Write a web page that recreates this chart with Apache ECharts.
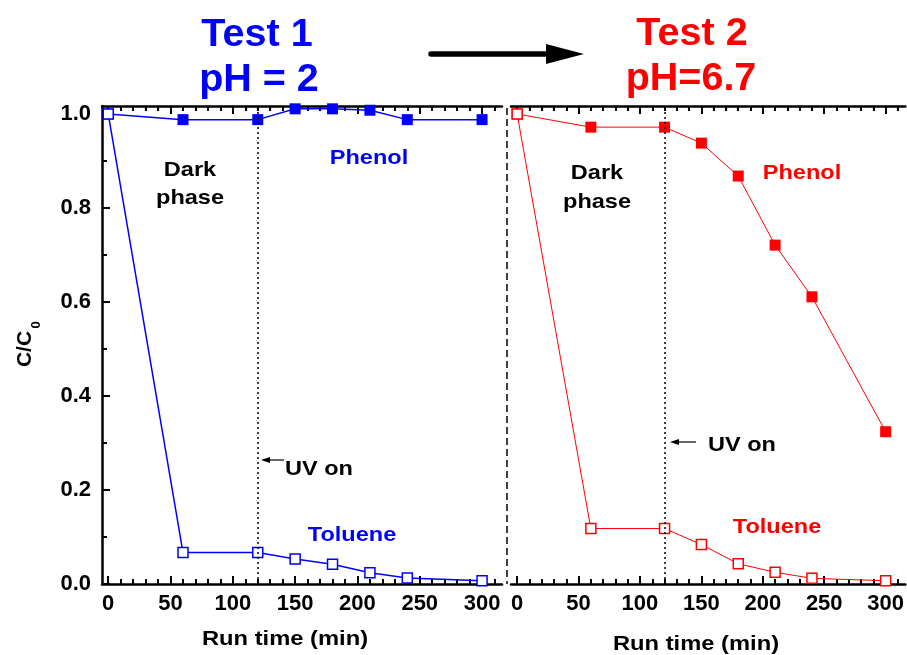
<!DOCTYPE html>
<html>
<head>
<meta charset="utf-8">
<script src="https://cdn.jsdelivr.net/npm/echarts@6/dist/echarts.min.js"></script>
<style>
  html, body { margin: 0; padding: 0; background: #ffffff; }
  #chart { width: 907px; height: 655px; }
</style>
</head>
<body>
<div id="chart"></div>
<script>
// Sampling times (min) shared by both tests
const runTime = [0, 60, 120, 150, 180, 210, 240, 300];

// Test 1, pH = 2 : C/C0
const phenolPH2  = [1.000, 0.988, 0.988, 1.011, 1.011, 1.008, 0.988, 0.988];
const toluenePH2 = [1.000, 0.067, 0.067, 0.053, 0.042, 0.024, 0.013, 0.007];

// Test 2, pH = 6.7 : C/C0
const phenolPH67  = [1.000, 0.972, 0.972, 0.938, 0.868, 0.721, 0.611, 0.324];
const toluenePH67 = [1.000, 0.118, 0.118, 0.084, 0.043, 0.025, 0.012, 0.007];

// UV lamp switched on after the dark phase
const uvOnTime = 120;

// Tick positions
const xMajorTicks = [0, 50, 100, 150, 200, 250, 300];
const xMinorTicks = [10, 20, 30, 40, 60, 70, 80, 90, 110, 120, 130, 140, 160, 170, 180, 190,
                     210, 220, 230, 240, 260, 270, 280, 290, 310];
const yMajorTicks = [0, 0.2, 0.4, 0.6, 0.8, 1.0];
const yMinorTicks = [0.1, 0.3, 0.5, 0.7, 0.9];

const FONT = '"Liberation Sans", Arial, sans-serif';
const BLUE = '#0000ff';
const RED = '#ff0000';
const X_MIN = -5, X_MAX = 316, Y_MIN = 0, Y_MAX = 1.017;
const WIDE = 1.12;   // horizontal stretch of the bold annotation lettering

const pairs = (xs, ys) => xs.map((x, i) => [x, ys[i]]);

function xAxisDef(gridIndex, position, ticks, len, withLabels, withLine) {
  return {
    type: 'value', gridIndex, position, min: X_MIN, max: X_MAX,
    axisLine: { show: withLine, onZero: false, lineStyle: { color: '#000', width: 2.5 } },
    axisTick: { show: true, inside: true, length: len, customValues: ticks,
                lineStyle: { color: '#000', width: 2 } },
    axisLabel: withLabels ? {
      show: true, customValues: ticks, margin: 9, color: '#000',
      fontFamily: FONT, fontWeight: 'bold', fontSize: 22,
      formatter: v => String(Math.round(v))
    } : { show: false },
    splitLine: { show: false }
  };
}

function yAxisDef(gridIndex, ticks, len, withLabels, withLine, show) {
  return {
    type: 'value', gridIndex, position: 'left', min: Y_MIN, max: Y_MAX, show,
    axisLine: { show: withLine, onZero: false, lineStyle: { color: '#000', width: 2.5 } },
    axisTick: { show: true, inside: true, length: len, customValues: ticks,
                lineStyle: { color: '#000', width: 2 } },
    axisLabel: withLabels ? {
      show: true, customValues: ticks, margin: 11, color: '#000',
      fontFamily: FONT, fontWeight: 'bold', fontSize: 22,
      formatter: v => v.toFixed(1)
    } : { show: false },
    splitLine: { show: false }
  };
}

function uvLine() {
  return {
    silent: true, symbol: 'none', label: { show: false },
    lineStyle: { color: '#000', type: [2, 3], width: 1.5 },
    emphasis: { disabled: true },
    data: [{ xAxis: uvOnTime }]
  };
}

function filledSeries(name, xi, yi, data, color, width, markLine) {
  const s = {
    name, type: 'line', xAxisIndex: xi, yAxisIndex: yi, data,
    symbol: 'rect', symbolSize: 11,
    itemStyle: { color },
    lineStyle: { color, width },
    emphasis: { disabled: true }, z: 3
  };
  if (markLine) s.markLine = markLine;
  return s;
}

function openSeries(name, xi, yi, data, color, width) {
  return {
    name, type: 'line', xAxisIndex: xi, yAxisIndex: yi, data,
    symbol: 'rect', symbolSize: 10,
    itemStyle: { color: '#ffffff', borderColor: color, borderWidth: 1.5 },
    lineStyle: { color, width },
    emphasis: { disabled: true }, z: 4
  };
}

function label(text, x, y, color, size, stretch, align) {
  return {
    type: 'text', x, y, silent: true, scaleX: stretch || 1,
    style: { text, fill: color, font: 'bold ' + size + 'px ' + FONT,
             align: align || 'center', verticalAlign: 'middle' }
  };
}

function leftArrow(x1, x2, y) {
  return [
    { type: 'line', silent: true, shape: { x1: x1, y1: y, x2: x2 + 6, y2: y },
      style: { stroke: '#000', lineWidth: 1.2 } },
    { type: 'polygon', silent: true,
      shape: { points: [[x2, y], [x2 + 9, y - 3], [x2 + 9, y + 3]] },
      style: { fill: '#000' } }
  ];
}

const chart = echarts.init(document.getElementById('chart'), null, { renderer: 'canvas' });

chart.setOption({
  animation: false,
  backgroundColor: '#ffffff',
  grid: [
    { left: 102, top: 106, width: 400, height: 478 },
    { left: 511, top: 106, width: 399, height: 478 }
  ],
  xAxis: [
    xAxisDef(0, 'bottom', xMajorTicks, 8, true, true),
    xAxisDef(0, 'bottom', xMinorTicks, 5, false, false),
    xAxisDef(0, 'top', xMajorTicks, 8, false, true),
    xAxisDef(0, 'top', xMinorTicks, 5, false, false),
    xAxisDef(1, 'bottom', xMajorTicks, 8, true, true),
    xAxisDef(1, 'bottom', xMinorTicks, 5, false, false),
    xAxisDef(1, 'top', xMajorTicks, 8, false, true),
    xAxisDef(1, 'top', xMinorTicks, 5, false, false)
  ],
  yAxis: [
    yAxisDef(0, yMajorTicks, 8, true, true, true),
    yAxisDef(0, yMinorTicks, 5, false, false, true),
    yAxisDef(1, yMajorTicks, 8, false, false, false)
  ],
  series: [
    filledSeries('Phenol pH 2', 0, 0, pairs(runTime, phenolPH2), BLUE, 1.5, uvLine()),
    openSeries('Toluene pH 2', 0, 0, pairs(runTime, toluenePH2), BLUE, 1.5),
    filledSeries('Phenol pH 6.7', 4, 2, pairs(runTime, phenolPH67), RED, 1, uvLine()),
    openSeries('Toluene pH 6.7', 4, 2, pairs(runTime, toluenePH67), RED, 1)
  ],
  graphic: [
    // headings
    label('Test 1', 257, 36, BLUE, 38, 1.04),
    label('pH = 2', 259, 81, BLUE, 38, 1.04),
    label('Test 2', 692, 35, RED, 38, 1.04),
    label('pH=6.7', 691, 80, RED, 38, 1.04),
    { type: 'line', silent: true, shape: { x1: 431, y1: 54, x2: 550, y2: 54 },
      style: { stroke: '#000', lineWidth: 5.5, lineCap: 'round' } },
    { type: 'polygon', silent: true,
      shape: { points: [[546, 44], [584, 54], [546, 64]] }, style: { fill: '#000' } },

    // separator between the two runs
    { type: 'line', silent: true, shape: { x1: 507, y1: 108, x2: 507, y2: 584 },
      style: { stroke: '#000', lineWidth: 1.5, lineDash: [7, 4] } },

    // axis titles
    label('Run time (min)', 285, 639, '#000', 21, 1.13),
    label('Run time (min)', 696, 644, '#000', 21, 1.13),
    { type: 'text', x: 25, y: 349, rotation: Math.PI / 2, silent: true,
      style: { text: 'C/C', fill: '#000', font: 'bold 21px ' + FONT,
               align: 'center', verticalAlign: 'middle' } },
    { type: 'text', x: 36, y: 325, rotation: Math.PI / 2, silent: true,
      style: { text: '0', fill: '#000', font: 'bold 13px ' + FONT,
               align: 'center', verticalAlign: 'middle' } },

    // Test 1 annotations
    label('Dark', 190, 170, '#000', 21, WIDE),
    label('phase', 190, 198, '#000', 21, WIDE),
    label('Phenol', 369, 158, BLUE, 21, WIDE),
    label('Toluene', 352, 535, BLUE, 21, WIDE),
    ...leftArrow(284, 261, 460),
    label('UV on', 285, 469, '#000', 21, WIDE, 'left'),

    // Test 2 annotations
    label('Dark', 597, 173, '#000', 21, WIDE),
    label('phase', 597, 202, '#000', 21, WIDE),
    label('Phenol', 802, 173, RED, 21, WIDE),
    label('Toluene', 777, 527, RED, 21, WIDE),
    ...leftArrow(696, 670, 442),
    label('UV on', 708, 445, '#000', 21, WIDE, 'left')
  ]
});
</script>
</body>
</html>
